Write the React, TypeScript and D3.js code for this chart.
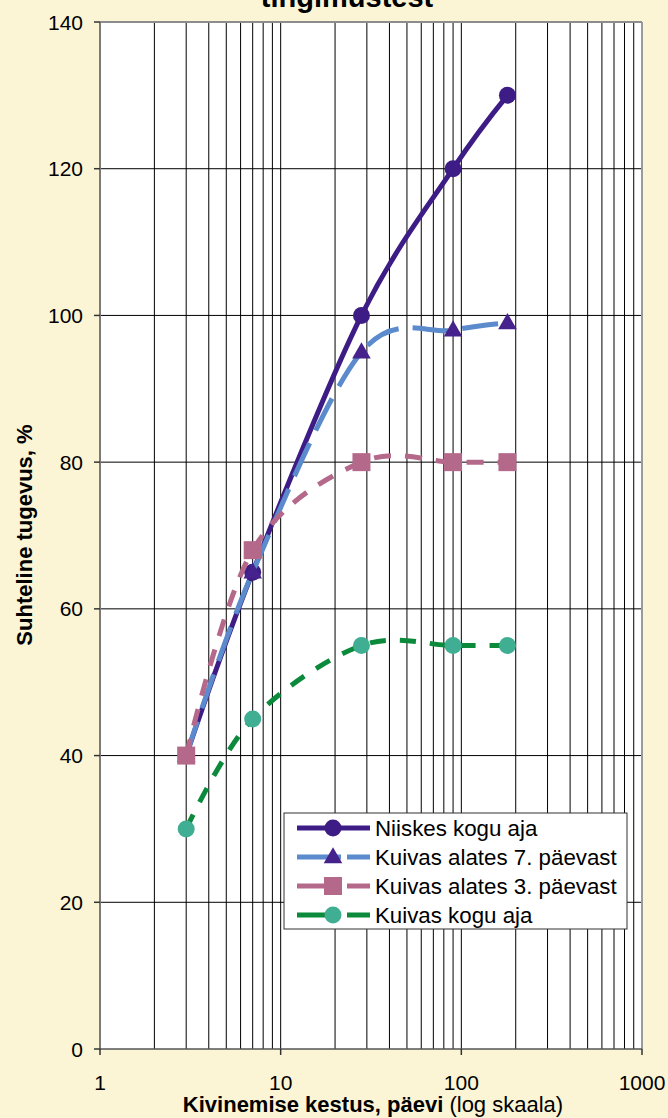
import * as d3 from "d3";

const days = [3, 7, 28, 90, 180];
const niiskes = [40, 65, 100, 120, 130];
const kuivas7 = [40, 65, 95, 98, 99];
const kuivas3 = [40, 68, 80, 80, 80];
const kuivasKogu = [30, 45, 55, 55, 55];

const yTicks = [0, 20, 40, 60, 80, 100, 120, 140];
const xTicks = [1, 10, 100, 1000];

const series = [
  { name: "Niiskes kogu aja", values: niiskes, line: "#3D1C85", marker: "#3D1C85", shape: "circle", dash: null },
  { name: "Kuivas alates 7. päevast", values: kuivas7, line: "#5B8BCC", marker: "#46228C", shape: "triangle", dash: "36,14" },
  { name: "Kuivas alates 3. päevast", values: kuivas3, line: "#B5698A", marker: "#B5698A", shape: "square", dash: "17,14" },
  { name: "Kuivas kogu aja", values: kuivasKogu, line: "#0B8A3B", marker: "#3FAE93", shape: "circle", dash: "16,14" },
];

const W = 668;
const H = 1118;
const left = 100;
const right = 642;
const top = 22;
const bottom = 1049;

const Marker = ({ shape, x, y, color }) => {
  if (shape === "triangle") {
    const p = d3.symbol().type(d3.symbolTriangle).size(150)();
    return <path d={p} transform={`translate(${x},${y + 1})`} fill={color} />;
  }
  if (shape === "square") {
    return <rect x={x - 9} y={y - 9} width={18} height={18} fill={color} />;
  }
  return <circle cx={x} cy={y} r={8.5} fill={color} />;
};

export default function App() {
  const x = d3.scaleLog().domain([1, 1000]).range([left, right]);
  const y = d3.scaleLinear().domain([0, 140]).range([bottom, top]);

  // minor grid 2..9 in every decade
  const gridX = [];
  for (const dec of [1, 10, 100]) {
    for (let k = 2; k <= 10; k++) gridX.push(dec * k);
  }

  const line = d3
    .line<number>()
    .x((_, i) => x(days[i]))
    .y((d) => y(d))
    .curve(d3.curveCardinal.tension(0));

  const legendX = 284;
  const legendY = 813;
  const rowY = [828, 857, 886, 915];

  return (
    <svg
      width={W}
      height={H}
      style={{ position: "absolute", left: 0, top: 0, fontFamily: "Liberation Sans, Arial, sans-serif" }}
    >
      <rect x={0} y={0} width={W} height={H} fill="#FBF5D6" />
      <text x={347} y={7} textAnchor="middle" fontSize={29} fontWeight="bold" fill="#000">
        tingimustest
      </text>

      <rect x={left} y={top} width={right - left} height={bottom - top} fill="#fff" />

      {gridX.map((v) => (
        <line key={"gx" + v} x1={x(v)} x2={x(v)} y1={top} y2={bottom} stroke="#000" strokeWidth={1} />
      ))}
      {yTicks.slice(1).map((v) => (
        <line key={"gy" + v} x1={left} x2={right} y1={y(v)} y2={y(v)} stroke="#000" strokeWidth={1} />
      ))}

      {/* plot border */}
      <line x1={left} x2={right} y1={top} y2={top} stroke="#8c8c8c" strokeWidth={2} />
      <line x1={right} x2={right} y1={top} y2={bottom} stroke="#9a9a9a" strokeWidth={2} />
      <line x1={left} x2={left} y1={top} y2={bottom} stroke="#7a7a7a" strokeWidth={2} />
      <line x1={left} x2={right} y1={bottom} y2={bottom} stroke="#555" strokeWidth={1.5} />

      {yTicks.map((v) => (
        <g key={"yt" + v}>
          <line x1={left - 6} x2={left} y1={y(v)} y2={y(v)} stroke="#333" strokeWidth={1.5} />
          <text x={83} y={y(v) + 7.5} textAnchor="end" fontSize={21} fill="#000">
            {v}
          </text>
        </g>
      ))}
      {xTicks.map((v) => (
        <g key={"xt" + v}>
          <line x1={x(v)} x2={x(v)} y1={bottom} y2={bottom + 6} stroke="#333" strokeWidth={1.5} />
          <text x={x(v)} y={1090} textAnchor="middle" fontSize={21} fill="#000">
            {v}
          </text>
        </g>
      ))}

      <text x={373} y={1112} textAnchor="middle" fontSize={22} fill="#000">
        <tspan fontWeight="bold">Kivinemise kestus, päevi</tspan> (log skaala)
      </text>
      <text
        transform={`translate(32,535) rotate(-90)`}
        textAnchor="middle"
        fontSize={22}
        fontWeight="bold"
        fill="#000"
      >
        Suhteline tugevus, %
      </text>

      {series.map((s) => (
        <g key={s.name}>
          <path
            d={line(s.values) || ""}
            fill="none"
            stroke={s.line}
            strokeWidth={5}
            strokeDasharray={s.dash || undefined}
          />
          {s.values.map((v, i) => (
            <Marker key={i} shape={s.shape} x={x(days[i])} y={y(v)} color={s.marker} />
          ))}
        </g>
      ))}

      <rect
        x={legendX}
        y={legendY}
        width={627 - legendX}
        height={929 - legendY}
        fill="#fff"
        stroke="#333"
        strokeWidth={1}
      />
      {series.map((s, i) => (
        <g key={"lg" + i}>
          <line
            x1={297}
            x2={370}
            y1={rowY[i]}
            y2={rowY[i]}
            stroke={s.line}
            strokeWidth={5}
            strokeDasharray={s.dash ? "44,6" : undefined}
          />
          <Marker shape={s.shape} x={333} y={rowY[i]} color={s.marker} />
          <text x={375} y={rowY[i] + 8} fontSize={22.3} fill="#000">
            {s.name}
          </text>
        </g>
      ))}
    </svg>
  );
}
